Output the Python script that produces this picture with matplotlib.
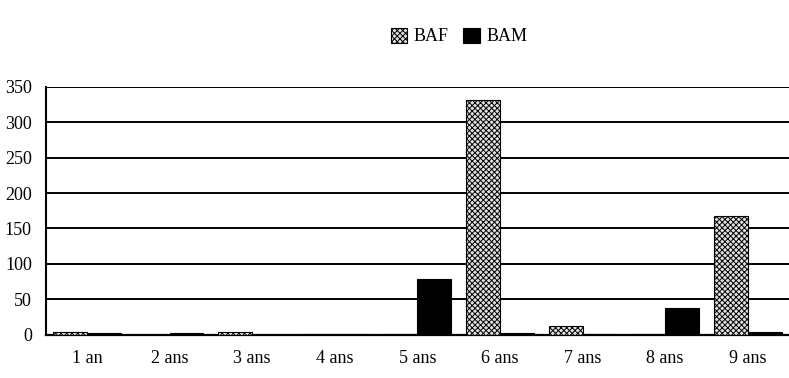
import matplotlib
matplotlib.use("Agg")
import matplotlib.pyplot as plt
import numpy as np

categories = ["1 an", "2 ans", "3 ans", "4 ans", "5 ans", "6 ans", "7 ans", "8 ans", "9 ans"]
baf = [3, 0, 3, 1, 1, 332, 12, 1, 168]
bam = [2, 2, 0, 1, 78, 2, 1, 38, 4]
yticks = [0, 50, 100, 150, 200, 250, 300, 350]

plt.rcParams['font.family'] = ['Liberation Serif', 'DejaVu Serif']
plt.rcParams['hatch.linewidth'] = 0.7

fig = plt.figure(figsize=(7.89, 3.78), dpi=100)
ax = fig.add_axes([0.058, 0.115, 0.942, 0.655])

x = np.arange(len(categories))
w = 0.41
ax.bar(x - w/2, baf, w, facecolor="#e0e0e0", edgecolor="black", hatch="xxxxxx", linewidth=0.8, label="BAF", zorder=3)
ax.bar(x + w/2, bam, w, facecolor="black", edgecolor="black", linewidth=0.8, label="BAM", zorder=3)

ax.set_ylim(0, 350)
ax.set_xlim(-0.5, 8.5)
ax.set_yticks(yticks)
ax.set_yticklabels([str(v) for v in yticks], fontsize=13)
ax.set_xticks(x)
ax.set_xticklabels(categories, fontsize=13)
ax.tick_params(axis='both', length=0)
ax.tick_params(axis='x', pad=11)
ax.tick_params(axis='y', pad=10)
ax.yaxis.grid(True, color="black", linewidth=1.4, zorder=0)
ax.set_axisbelow(True)
for s in ["top", "right"]:
    ax.spines[s].set_visible(False)
ax.spines["left"].set_linewidth(1.5)
ax.spines["bottom"].set_linewidth(1.6)

fig.legend(loc="upper center", bbox_to_anchor=(0.582, 0.97), ncol=2, frameon=False,
           fontsize=13, handlelength=0.9, handleheight=0.9, columnspacing=0.8, handletextpad=0.4)

fig.savefig("out.png", dpi=100)
